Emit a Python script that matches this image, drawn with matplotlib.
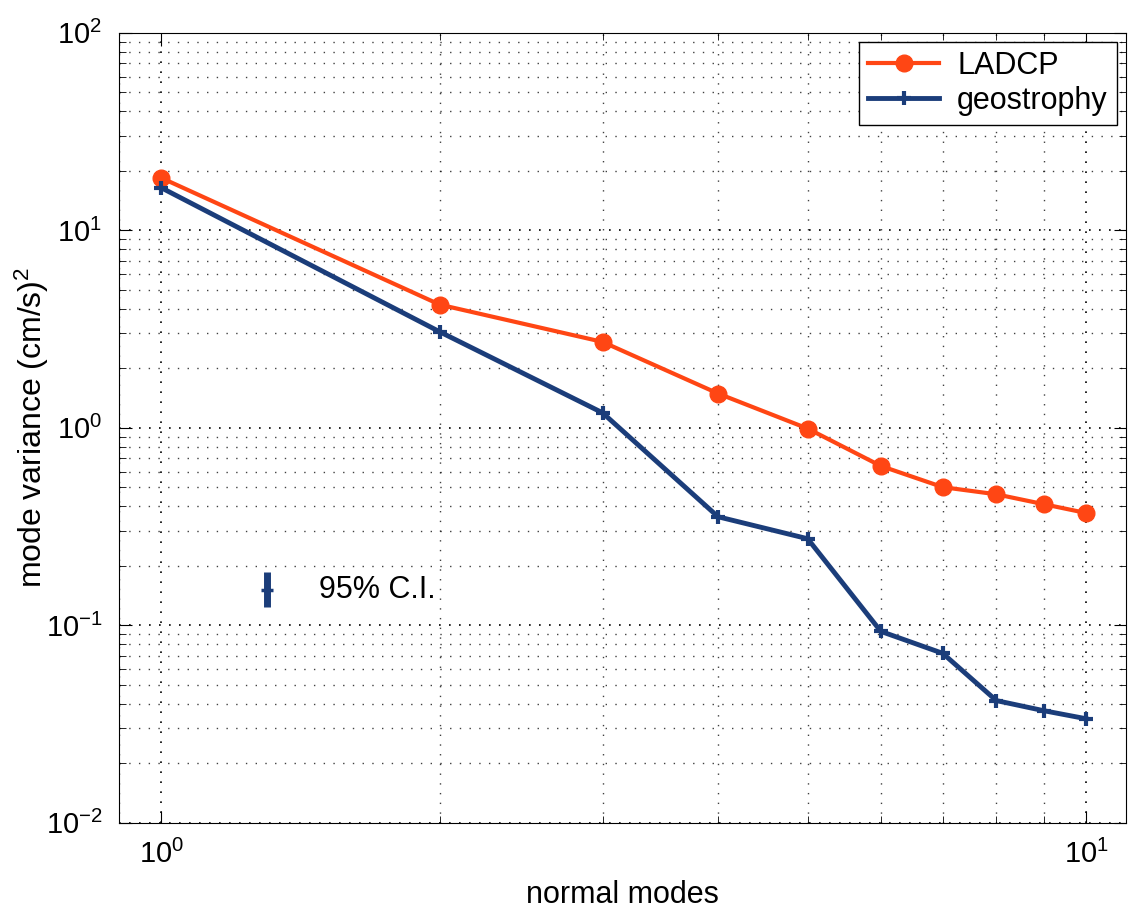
import numpy as np
import matplotlib
matplotlib.use("Agg")
import matplotlib.pyplot as plt
from matplotlib.ticker import LogLocator, NullFormatter

plt.rcParams['font.family'] = ['Liberation Sans', 'DejaVu Sans']
plt.rcParams['mathtext.fontset'] = 'custom'
plt.rcParams['mathtext.rm'] = 'Liberation Sans'
plt.rcParams['mathtext.it'] = 'Liberation Sans'

modes = [1, 2, 3, 4, 5, 6, 7, 8, 9, 10]
ladcp = [18.4, 4.2, 2.72, 1.49, 0.99, 0.64, 0.50, 0.46, 0.41, 0.37]
geostrophy = [16.4, 3.06, 1.19, 0.354, 0.274, 0.093, 0.072, 0.0415, 0.0369, 0.0336]

# confidence interval marker
ci_x = 1.3
ci_y = 0.151
ci_lo, ci_hi = 0.124, 0.185

orange = '#ff4614'
navy = '#1b3d7a'

fig = plt.figure(figsize=(11.34, 9.10), dpi=100)
ax = fig.add_axes([0.105, 0.096, 0.888, 0.868])

ax.plot(modes, ladcp, '-o', color=orange, lw=3, ms=12, label='LADCP')
ax.plot(modes, geostrophy, '-+', color=navy, lw=3.5, ms=10, mew=3, label='geostrophy')

ax.errorbar([ci_x], [ci_y], yerr=[[ci_y - ci_lo], [ci_hi - ci_y]],
            fmt='+', color=navy, ms=8, mew=2.5, elinewidth=5, capsize=0)
ax.text(1.48, ci_y, '95% C.I.', fontsize=22, va='center', ha='left')

ax.set_xscale('log')
ax.set_yscale('log')
ax.set_xlim(0.9, 11.05)
ax.set_ylim(1e-2, 1e2)

ax.xaxis.set_major_locator(LogLocator(base=10))
ax.xaxis.set_minor_locator(LogLocator(base=10, subs=np.arange(2, 10)))
ax.xaxis.set_minor_formatter(NullFormatter())
ax.yaxis.set_minor_locator(LogLocator(base=10, subs=np.arange(2, 10)))
ax.yaxis.set_minor_formatter(NullFormatter())

ax.grid(True, which='major', ls=(0, (1, 5)), color='black', lw=1.2)
ax.grid(True, which='minor', ls=(0, (1, 6)), color='black', lw=1.0, alpha=0.75)

ax.tick_params(which='both', direction='in', top=True, right=True, labelsize=21)
ax.tick_params(which='major', length=9)
ax.tick_params(which='minor', length=5)
ax.tick_params(axis='x', pad=12)
ax.tick_params(axis='y', pad=12)

ax.set_xlabel('normal modes', fontsize=22, labelpad=8)
ax.set_ylabel('mode variance (cm/s)$^2$', fontsize=23)
ax.yaxis.set_label_coords(-0.068, 0.5)

leg = ax.legend(loc='upper right', fontsize=22, fancybox=False, framealpha=1,
                edgecolor='black', handlelength=2.3, handletextpad=0.6,
                borderpad=0.3, labelspacing=0.15, borderaxespad=0.3)
leg.get_frame().set_linewidth(1.0)

fig.savefig('out.png', dpi=100)
